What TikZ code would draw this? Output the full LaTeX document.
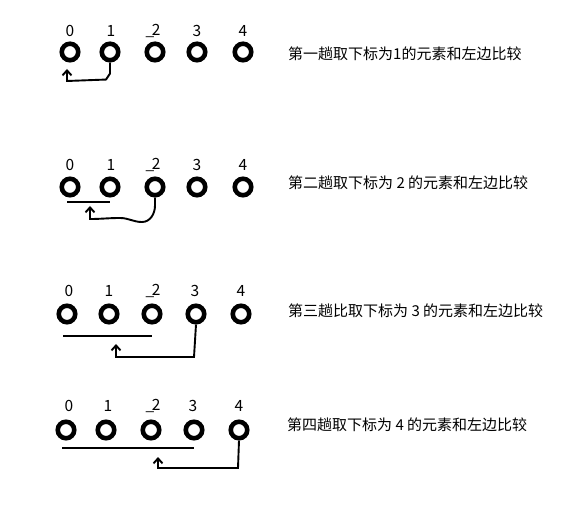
\documentclass[tikz,border=0pt]{standalone}
\usepackage{fontspec}
\newfontfamily\cjk{Noto Sans CJK SC}
\usetikzlibrary{arrows.meta}
\newcommand{\utwo}{\_\kern-2.5pt2}
\begin{document}
\begin{tikzpicture}[x=1pt,y=-1pt,
  ring/.style={circle,draw,line width=4.6pt,minimum size=16.5pt,inner sep=0pt},
  idx/.style={font=\cjk\fontsize{15.5}{15.5}\selectfont,inner sep=0pt},
  desc/.style={font=\cjk\fontsize{15}{15}\selectfont,anchor=west,inner sep=0pt},
  bar/.style={line width=2.8pt},
  back/.style={line width=1.9pt,-{Straight Barb[length=5pt,width=9pt,line width=1.9pt]}}]
\useasboundingbox (0,0) rectangle (573,526);
\fill[white] (0,0) rectangle (573,526);

% ---- row 1
\foreach \i/\x/\lx/\t in {0/70/70/0,1/110/111/1,2/155/153/\utwo,3/197/197/3,4/243/243/4}{
  \node[ring] (r1c\i) at (\x,52) {};
  \node[idx] (r1l\i) at (\lx,31) {\t};
}
\node[desc] (t1) at (288,54) {第一趟取下标为1的元素和左边比较};
\coordinate (r1e) at (67,69);
\draw[back] (r1c1.south) -- ++(0,11) -- ++(-4,6) -- (67,81) -- (r1e);

% ---- row 2
\foreach \i/\x/\lx/\t in {0/70/70/0,1/110/111/1,2/155/153/\utwo,3/197/197/3,4/243/243/4}{
  \node[ring] (r2c\i) at (\x,187) {};
  \node[idx] (r2l\i) at (\lx,165) {\t};
}
\node[desc] (t2) at (288,183) {第二趟取下标为 2 的元素和左边比较};
\coordinate (r2a) at (67,202);
\coordinate (r2b) at (110,202);
\draw[bar] (r2a) -- (r2b);
\coordinate (r2e) at (90,206);
\draw[back] (r2c2.south) -- ++(0,8) to[out=270,in=0] (142,222)
  to[out=180,in=0] (120,218) to[out=180,in=0] (90,219) -- (r2e);

% ---- row 3
\foreach \i/\x/\lx/\t in {0/67/69/0,1/109/109/1,2/152/153/\utwo,3/196/195/3,4/241/241/4}{
  \node[ring] (r3c\i) at (\x,314) {};
  \node[idx] (r3l\i) at (\lx,291) {\t};
}
\node[desc] (t3) at (288,311) {第三趟比取下标为 3 的元素和左边比较};
\coordinate (r3a) at (63,336);
\coordinate (r3b) at (152,336);
\draw[bar] (r3a) -- (r3b);
\coordinate (r3e) at (116,344);
\draw[back] (r3c3.south) -- (194,357) -- (116,357) -- (r3e);

% ---- row 4
\foreach \i/\x/\lx/\t in {0/66/69/0,1/106/108/1,2/151/153/\utwo,3/194/193/3,4/239/239/4}{
  \node[ring] (r4c\i) at (\x,430) {};
  \node[idx] (r4l\i) at (\lx,406) {\t};
}
\node[desc] (t4) at (287,425) {第四趟取下标为 4 的元素和左边比较};
\coordinate (r4a) at (62,448);
\coordinate (r4b) at (194,448);
\draw[bar] (r4a) -- (r4b);
\coordinate (r4e) at (158,457);
\draw[back] (r4c4.south) -- (238,468) -- (158,468) -- (r4e);
\end{tikzpicture}
\end{document}
